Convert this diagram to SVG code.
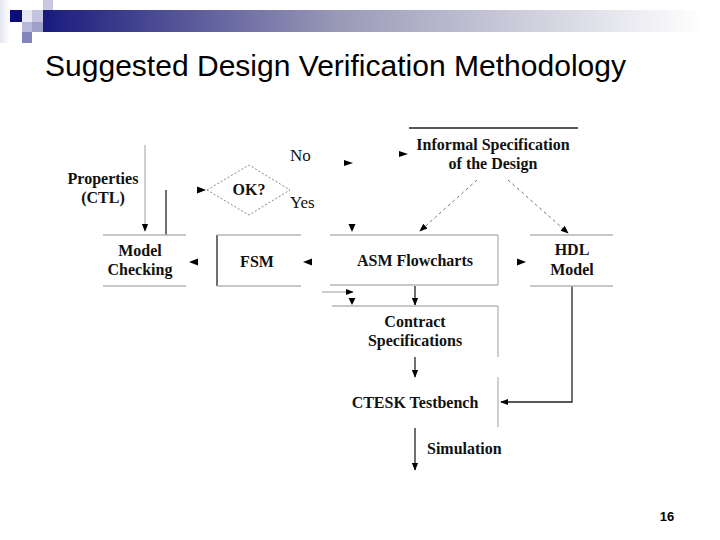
<svg xmlns="http://www.w3.org/2000/svg" width="720" height="540" viewBox="0 0 720 540">
<defs>
<linearGradient id="bar" x1="0" y1="0" x2="1" y2="0">
<stop offset="0" stop-color="#1a1a7e"/>
<stop offset="0.45" stop-color="#9a9ab8"/>
<stop offset="1" stop-color="#ffffff"/>
</linearGradient>
<linearGradient id="fade" x1="0" y1="0" x2="1" y2="0">
<stop offset="0" stop-color="#e4e4f2"/>
<stop offset="1" stop-color="#ffffff"/>
</linearGradient>
<marker id="ah" viewBox="0 0 10 10" refX="9" refY="5" markerWidth="8" markerHeight="8" orient="auto" markerUnits="userSpaceOnUse">
<path d="M0,1 L10,5 L0,9 Z" fill="#000"/>
</marker>
</defs>
<style>
.t{font-family:"Liberation Serif","Times New Roman",serif;font-weight:bold;font-size:16px;fill:#111;text-anchor:middle}
.r{font-family:"Liberation Serif","Times New Roman",serif;font-size:17px;fill:#111}
.g{stroke:#b4b4b4;stroke-width:1.3;fill:none}
.d{stroke:#222;stroke-width:1.3;fill:none}
.dash{stroke:#777;stroke-width:1;stroke-dasharray:3,3;fill:none}
.ah{fill:#000}
</style>
<rect width="720" height="540" fill="#fff"/>
<g id="header">
<rect x="0" y="0" width="10" height="43" fill="url(#fade)"/>
<rect x="43" y="10" width="660" height="22" fill="url(#bar)"/>
<rect x="10" y="10" width="12" height="12" fill="#0c0c7a"/>
<rect x="22" y="10" width="10" height="12" fill="#e8e8f4"/>
<rect x="32" y="10" width="11" height="12" fill="#c4c4e0"/>
<rect x="43" y="0" width="10" height="10" fill="#c8c8e2"/>
<rect x="22" y="22" width="10" height="10" fill="#b8b8dc"/>
<rect x="32" y="22" width="11" height="10" fill="#a0a0cc"/>
<rect x="22" y="32" width="10" height="11" fill="#8484bc"/>
</g>
<text x="45" y="76" font-family="Liberation Sans, Arial, sans-serif" font-size="29" textLength="581" lengthAdjust="spacingAndGlyphs" fill="#000">Suggested Design Verification Methodology</text>
<g id="connectors">
<line class="g" x1="145" y1="145" x2="145" y2="231" marker-end="url(#ah)"/>
<line class="d" x1="166" y1="190" x2="166" y2="235"/>
<polygon class="ah" points="206,190 197,186.5 197,193.5"/>
<path class="ah" d="M344,160 L353,163 L344,166 Z"/>
<path class="ah" d="M399,151 L408,154 L399,157 Z"/>
<line class="dash" x1="477" y1="180" x2="420" y2="231" marker-end="url(#ah)"/>
<line class="dash" x1="508" y1="180" x2="568" y2="233" marker-end="url(#ah)"/>
<path class="ah" d="M348.5,224 L352,232 L355.5,224 Z"/>
<path class="ah" d="M198,258.5 L189,262 L198,265.5 Z"/>
<path class="ah" d="M312,258.5 L303,262 L312,265.5 Z"/>
<path class="ah" d="M517,258.5 L526,262 L517,265.5 Z"/>
<line class="g" x1="322" y1="292" x2="353" y2="292" marker-end="url(#ah)"/>
<path class="ah" d="M348.5,298 L352,305 L355.5,298 Z"/>
<line class="d" x1="415" y1="286" x2="415" y2="305" marker-end="url(#ah)"/>
<line class="d" x1="415" y1="357" x2="415" y2="377" marker-end="url(#ah)"/>
<polyline class="d" points="572,286 572,402 501,402" marker-end="url(#ah)"/>
<line class="d" x1="415" y1="428" x2="415" y2="470" marker-end="url(#ah)"/>
</g>
<g id="informal">
<line x1="409" y1="128" x2="578" y2="128" stroke="#222" stroke-width="1.3"/>
<text class="t" x="493" y="150">Informal Specification</text>
<text class="t" x="493" y="169">of the Design</text>
</g>
<g id="properties">
<text class="t" x="103" y="184">Properties</text>
<text class="t" x="103" y="203">(CTL)</text>
</g>
<g id="ok">
<polygon points="207,190 249,165 290,190 249,215" fill="none" stroke="#888" stroke-width="1" stroke-dasharray="2,2"/>
<text class="t" x="249" y="195">OK?</text>
</g>
<text class="r" x="290" y="161">No</text>
<text class="r" x="290" y="208">Yes</text>
<g id="model-checking">
<line class="g" x1="103" y1="235" x2="186" y2="235"/>
<line class="g" x1="103" y1="286" x2="186" y2="286"/>
<text class="t" x="140" y="256">Model</text>
<text class="t" x="140" y="275">Checking</text>
</g>
<g id="fsm">
<line class="d" x1="217" y1="235" x2="217" y2="286"/>
<line class="g" x1="217" y1="235" x2="301" y2="235"/>
<line class="g" x1="217" y1="286" x2="301" y2="286"/>
<text class="t" x="257" y="267">FSM</text>
</g>
<g id="asm">
<line class="g" x1="330" y1="235" x2="498" y2="235"/>
<line class="g" x1="330" y1="285" x2="498" y2="285"/>
<line class="g" x1="498" y1="235" x2="498" y2="285"/>
<text class="t" x="415" y="266">ASM Flowcharts</text>
</g>
<g id="hdl">
<line class="g" x1="530" y1="235" x2="613" y2="235"/>
<line class="g" x1="530" y1="286" x2="613" y2="286"/>
<text class="t" x="572" y="255">HDL</text>
<text class="t" x="572" y="275">Model</text>
</g>
<g id="contract">
<line class="g" x1="332" y1="306" x2="498" y2="306"/>
<line class="g" x1="498" y1="306" x2="498" y2="357"/>
<text class="t" x="415" y="327">Contract</text>
<text class="t" x="415" y="346">Specifications</text>
</g>
<g id="ctesk">
<line class="g" x1="498" y1="377" x2="498" y2="427"/>
<text class="t" x="415" y="408">CTESK Testbench</text>
</g>
<g id="simulation">
<text class="t" x="427" y="454" style="text-anchor:start">Simulation</text>
</g>
<text x="667" y="521" font-family="Liberation Sans, Arial, sans-serif" font-weight="bold" font-size="13" fill="#000" text-anchor="middle">16</text>
</svg>
